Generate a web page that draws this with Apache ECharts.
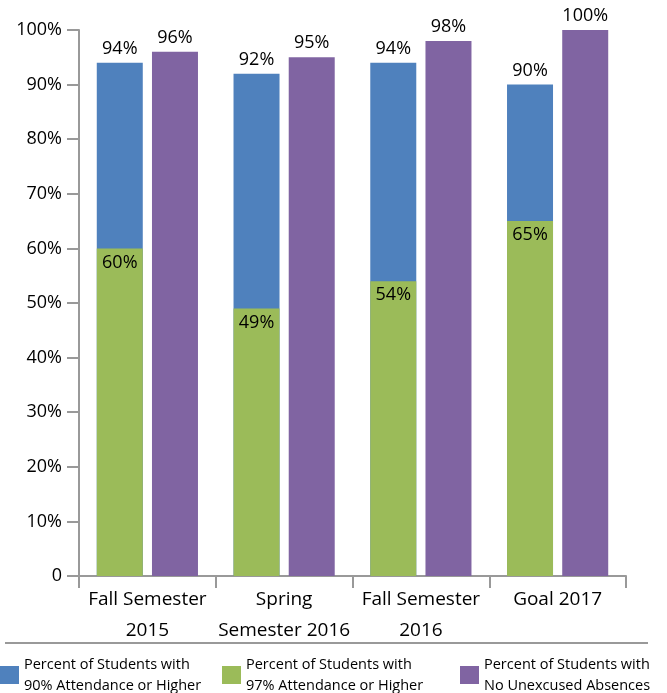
<!DOCTYPE html>
<html>
<head>
<meta charset="utf-8">
<script src="https://cdn.jsdelivr.net/npm/echarts@6/dist/echarts.min.js"></script>
<style>
  html, body { margin: 0; padding: 0; background: #fff; }
  #main { width: 667px; height: 693px; }
</style>
</head>
<body>
<div id="main"></div>
<script>
// categories and values (percent)
var categories = ['Fall Semester\n2015', 'Spring\nSemester 2016', 'Fall Semester\n2016', 'Goal 2017'];
var pct90 = [94, 92, 94, 90];
var pct97 = [60, 49, 54, 65];
var noAbsences = [96, 95, 98, 100];

var names = [
  'Percent of Students with\n90% Attendance or Higher',
  'Percent of Students with\n97% Attendance or Higher',
  'Percent of Students with\nNo Unexcused Absences'
];
var colors = ['#4F81BD', '#9BBB59', '#8064A2'];

var font = 'Open Sans';
var chart = echarts.init(document.getElementById('main'));

var valueLabel = {
  show: true,
  position: 'top',
  distance: 5,
  color: '#000',
  fontFamily: font,
  fontSize: 18,
  formatter: '{c}%'
};

function legendAt(i, left) {
  return {
    data: [names[i]],
    left: left,
    top: 654,
    padding: 0,
    itemWidth: 19,
    itemHeight: 18,
    itemGap: 6,
    icon: 'rect',
    textStyle: { fontFamily: font, fontSize: 14.5, color: '#000', lineHeight: 21 }
  };
}

var option = {
  animation: false,
  grid: { left: 79, right: 41, top: 30, bottom: 117 },
  legend: [legendAt(0, 0), legendAt(1, 222), legendAt(2, 460)],
  xAxis: [
    {
      type: 'category',
      data: categories,
      axisLine: { lineStyle: { color: '#999', width: 2 } },
      axisTick: { show: true, interval: 0, length: 12, lineStyle: { color: '#999', width: 2 } },
      axisLabel: { interval: 0, color: '#000', fontFamily: font, fontSize: 19, lineHeight: 31, margin: 8 }
    },
    {
      type: 'category',
      data: categories,
      show: false,
      position: 'bottom'
    }
  ],
  yAxis: {
    type: 'value',
    min: 0,
    max: 100,
    interval: 10,
    splitLine: { show: false },
    axisLine: { show: true, lineStyle: { color: '#999', width: 2 } },
    axisTick: { show: true, length: 12, lineStyle: { color: '#999', width: 2 } },
    axisLabel: {
      color: '#000', fontFamily: font, fontSize: 18, margin: 17,
      formatter: function (v) { return v === 0 ? '0' : v + '%'; }
    }
  },
  series: [
    {
      name: names[0],
      type: 'bar',
      xAxisIndex: 0,
      data: pct90,
      barWidth: 46,
      barGap: '20%',
      itemStyle: { color: colors[0] },
      label: valueLabel,
      z: 2
    },
    {
      name: names[2],
      type: 'bar',
      xAxisIndex: 0,
      data: noAbsences,
      barWidth: 46,
      barGap: '20%',
      itemStyle: { color: colors[2] },
      label: valueLabel,
      z: 2
    },
    {
      name: names[1],
      type: 'bar',
      xAxisIndex: 1,
      data: pct97,
      barWidth: 46,
      barGap: '20%',
      itemStyle: { color: colors[1] },
      label: Object.assign({}, valueLabel, { position: 'insideTop', distance: 5 }),
      z: 3
    },
    {
      // empty slot so the green bar lines up with the blue one
      name: 'spacer',
      type: 'bar',
      xAxisIndex: 1,
      data: categories.map(function () { return '-'; }),
      barWidth: 46,
      barGap: '20%'
    }
  ],
  graphic: [
    {
      type: 'line',
      shape: { x1: 5, y1: 643, x2: 648, y2: 643 },
      style: { stroke: '#999', lineWidth: 2 }
    }
  ]
};

chart.setOption(option);
</script>
</body>
</html>
